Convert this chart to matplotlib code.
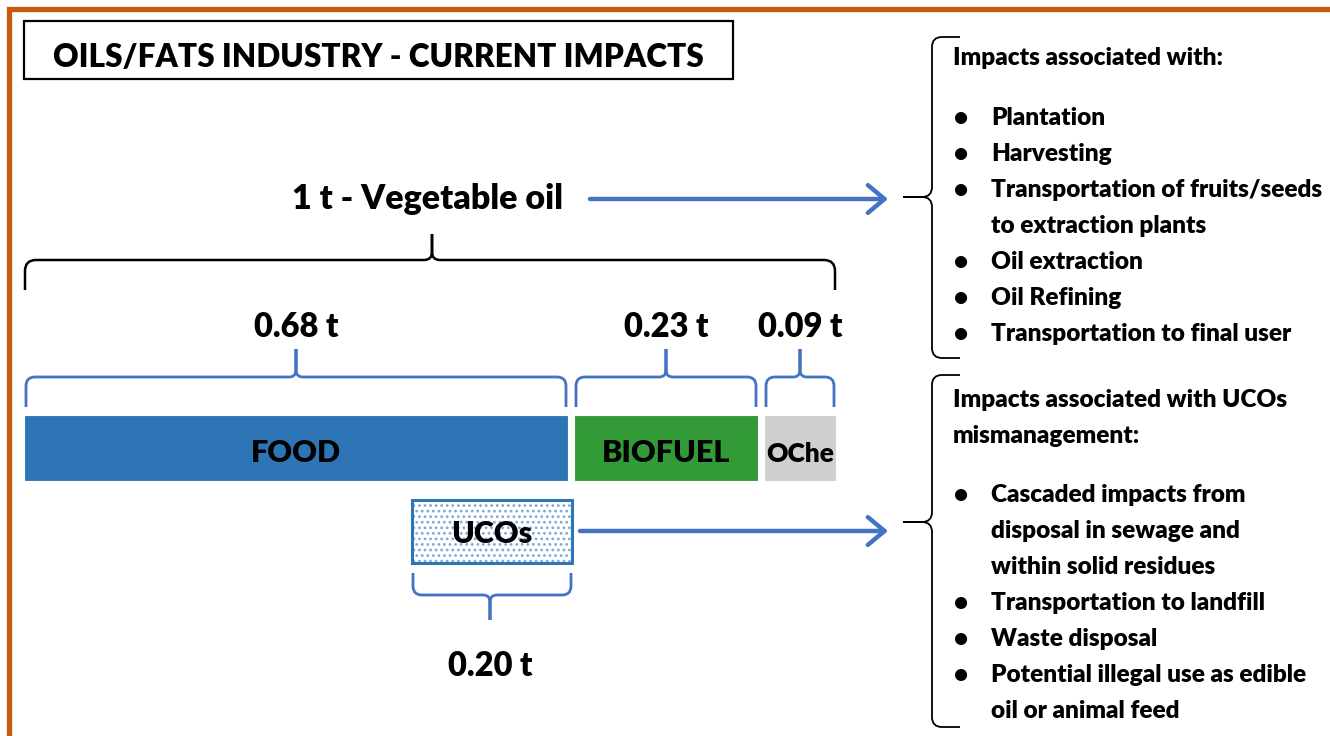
import matplotlib
matplotlib.use('Agg')
import matplotlib.pyplot as plt
from matplotlib.path import Path
from matplotlib.patches import PathPatch, Rectangle

plt.rcParams['font.family'] = ['Lato', 'DejaVu Sans']
plt.rcParams['hatch.linewidth'] = 1.2

# datos del diagrama
title = 'OILS/FATS INDUSTRY - CURRENT IMPACTS'
total_label = '1 t - Vegetable oil'
segments = ['FOOD', 'BIOFUEL', 'OChe']
tonnes = [0.68, 0.23, 0.09]
seg_colors = ['#2E75B6', '#339A38', '#D0CECE']
uco_name = 'UCOs'
uco_tonnes = 0.20
head_prod = ['Impacts associated with:']
impacts_prod = ['Plantation', 'Harvesting', 'Transportation of fruits/seeds',
                'to extraction plants', 'Oil extraction', 'Oil Refining',
                'Transportation to final user']
bullets_prod = [True, True, True, False, True, True, True]
head_uco = ['Impacts associated with UCOs', 'mismanagement:']
impacts_uco = ['Cascaded impacts from', 'disposal in sewage and',
               'within solid residues', 'Transportation to landfill',
               'Waste disposal', 'Potential illegal use as edible',
               'oil or animal feed']
bullets_uco = [True, False, False, True, True, True, False]

BLUE = '#4472C4'
ORANGE = '#C55A11'
W = 'heavy'

fig = plt.figure(figsize=(13.3, 7.36), dpi=100)
ax = fig.add_axes([0, 0, 1, 1])
ax.set_xlim(0, 1330)
ax.set_ylim(736, 0)
ax.axis('off')


def brace(u0, u1, ut, v_end, v_mid, v_tip, r_end=10, r_tip=8, vertical=False, **kw):
    # llave con dos mitades: cada extremo va hasta la punta
    verts, codes = [], []
    for ua in (u0, u1):
        d = 1 if ut > ua else -1
        se = 1 if v_mid > v_end else -1
        st = 1 if v_tip > v_mid else -1
        pts = [(ua, v_end), (ua, v_mid - se * r_end), (ua, v_mid), (ua + d * r_end, v_mid),
               (ut - d * r_tip, v_mid), (ut, v_mid), (ut, v_mid + st * r_tip), (ut, v_tip)]
        verts += pts
        codes += [Path.MOVETO, Path.LINETO, Path.CURVE3, Path.CURVE3,
                  Path.LINETO, Path.CURVE3, Path.CURVE3, Path.LINETO]
    if vertical:
        verts = [(v, u) for u, v in verts]
    ax.add_patch(PathPatch(Path(verts, codes), fill=False, capstyle='butt', **kw))


def arrow(x0, x1, y):
    ax.annotate('', xy=(x1, y), xytext=(x0, y),
                arrowprops=dict(arrowstyle='->,head_length=0.6,head_width=0.5',
                                mutation_scale=20, lw=3.2, color=BLUE,
                                capstyle='round', joinstyle='round',
                                shrinkA=0, shrinkB=0))


# marco naranja
ax.plot([8.5, 8.5, 1340], [745, 8.5, 8.5], color=ORANGE, lw=3.8,
        solid_joinstyle='miter', clip_on=False)

# titulo
ax.add_patch(Rectangle((24, 21), 709, 58, fill=False, ec='black', lw=1.6))
ax.text(378, 67, title, ha='center', va='baseline', fontsize=22.7, fontweight=W)

# barras proporcionales
x0, gap, scale = 24, 6, 800
lefts = []
pos = x0
for i, t in enumerate(tonnes):
    lefts.append(pos)
    pos += t * scale + gap
widths = [t * scale for t in tonnes]
bar_top, bar_h = 415, 66
ax.barh([bar_top + bar_h / 2] * 3, widths, height=bar_h, left=lefts,
        color=seg_colors, edgecolor='white', linewidth=0.8)
for name, l, w in zip(segments, lefts, widths):
    ax.text(l + w / 2, 462, name, ha='center', va='baseline',
            fontsize=22 if w > 100 else 19, fontweight=W, color='black')

# llaves azules y valores
for t, l, w in zip(tonnes, lefts, widths):
    c = l + w / 2
    brace(l + 2, l + w - 2, c, 407, 377, 349, r_end=9, r_tip=7, ec=BLUE, lw=2)
    ax.text(c, 337, f'{t:.2f} t', ha='center', va='baseline', fontsize=23.5, fontweight=W)

# llave negra total
right_end = lefts[-1] + widths[-1]
brace(x0 + 1, right_end - 1, 432, 290, 260, 234, r_end=11, r_tip=8, ec='black', lw=1.8)
ax.text(428, 209, total_label, ha='center', va='baseline', fontsize=24.5, fontweight=W)
arrow(590, 888, 199)

# caja UCOs
food_end = lefts[0] + widths[0]
uw = uco_tonnes * scale
ul = food_end - uw + 4
ax.add_patch(Rectangle((ul, 500), uw, 63, fc='white', ec='#7FA8DA', lw=0, hatch='...'))
ax.add_patch(Rectangle((ul, 500), uw, 63, fill=False, ec='#2E75B6', lw=2.2))
ax.text(ul + uw / 2, 543, uco_name, ha='center', va='baseline', fontsize=22, fontweight=W)
arrow(ul + uw + 8, 888, 531)
brace(ul + 1, ul + uw - 1, ul + uw / 2 - 2, 573, 595, 620, r_end=9, r_tip=7, ec=BLUE, lw=2)
ax.text(ul + uw / 2 - 2, 676, f'{uco_tonnes:.2f} t', ha='center', va='baseline',
        fontsize=23.5, fontweight=W)

# llaves de la derecha
brace(37, 358, 197, 960, 932, 903, r_end=10, r_tip=10, vertical=True, ec='black', lw=1.3)
brace(375, 727, 522, 960, 932, 903, r_end=10, r_tip=10, vertical=True, ec='black', lw=1.3)

# textos de impactos
fs = 17.6
for i, s in enumerate(head_prod):
    ax.text(953, 65 + 36 * i, s, ha='left', va='baseline', fontsize=fs, fontweight=W)
for i, (s, b) in enumerate(zip(impacts_prod, bullets_prod)):
    y = 125 + 36 * i
    if b:
        ax.text(961, y, '\u2022', ha='center', va='baseline', fontsize=fs, fontweight=W)
    ax.text(991, y, s, ha='left', va='baseline', fontsize=fs, fontweight=W)

for i, s in enumerate(head_uco):
    ax.text(953, 407 + 36 * i, s, ha='left', va='baseline', fontsize=fs, fontweight=W)
for i, (s, b) in enumerate(zip(impacts_uco, bullets_uco)):
    y = 502 + 36 * i
    if b:
        ax.text(961, y, '\u2022', ha='center', va='baseline', fontsize=fs, fontweight=W)
    ax.text(991, y, s, ha='left', va='baseline', fontsize=fs, fontweight=W)

fig.savefig('out.png', dpi=100)
